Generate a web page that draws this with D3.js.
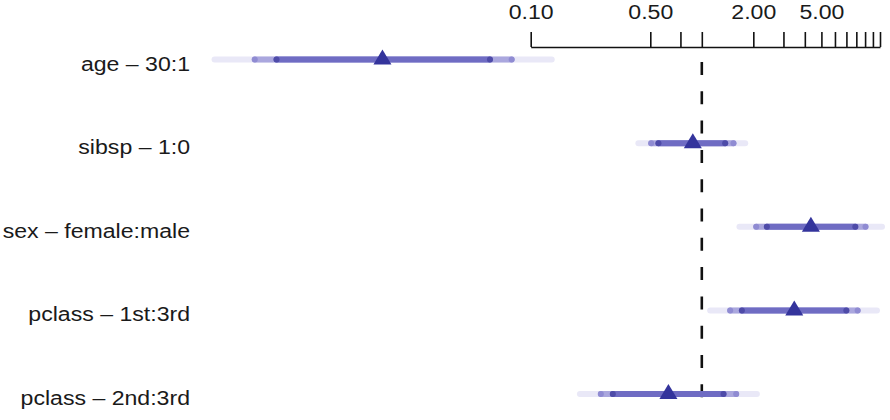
<!DOCTYPE html>
<html>
<head>
<meta charset="utf-8">
<script src="https://cdn.jsdelivr.net/npm/d3@7"></script>
<style>
body { margin: 0; background: #fff; }
text { font-family: "Liberation Sans", Helvetica, Arial, sans-serif; fill: #1a1a1a; }
</style>
</head>
<body>
<svg class="chart" width="890" height="420"></svg>
<script>
// effects (odds ratios) with 0.9 / 0.95 / 0.99 confidence limits
var labels = ["age \u2013 30:1", "sibsp \u2013 1:0", "sex \u2013 female:male", "pclass \u2013 1st:3rd", "pclass \u2013 2nd:3rd"];
var oddsRatio = [0.0136, 0.886, 4.34, 3.47, 0.638];
var lo90 = [0.00327, 0.558, 2.40, 1.715, 0.302];
var hi90 = [0.0578, 1.369, 7.89, 6.99, 1.339];
var lo95 = [0.00244, 0.506, 2.08, 1.465, 0.257];
var hi95 = [0.0774, 1.531, 9.05, 8.14, 1.588];
var lo99 = [0.00142, 0.426, 1.66, 1.119, 0.194];
var hi99 = [0.1327, 1.793, 11.3, 10.56, 2.098];
var tickValues = [0.1, 0.5, 0.75, 1, 2, 3, 4, 5, 6, 7, 8, 9, 10, 11];
var tickLabels = {"0.1": "0.10", "0.5": "0.50", "2": "2.00", "5": "5.00"};

var chart = d3.select(".chart");

var x = d3.scaleLog()
    .domain([0.1, 11])
    .range([530.7, 880]);

var y = d3.scalePoint()
    .domain(labels)
    .range([59.5, 394]);

var data = labels.map(function(d, i) {
    return {label: d, or: oddsRatio[i], l90: lo90[i], h90: hi90[i], l95: lo95[i], h95: hi95[i], l99: lo99[i], h99: hi99[i]};
});

// top axis
var axis = d3.axisTop(x)
    .tickValues(tickValues)
    .tickSize(15)
    .tickSizeOuter(0)
    .tickPadding(13)
    .tickFormat(function(d) { return tickLabels[String(d)] || ""; });

var ax = chart.append("g")
    .attr("transform", "translate(0,47)")
    .call(axis);
ax.select(".domain").attr("stroke", "#111").attr("stroke-width", 1.6);
ax.selectAll(".tick line").attr("stroke", "#111").attr("stroke-width", 1.6);
ax.selectAll(".tick text")
    .attr("font-family", "Liberation Sans, Helvetica, Arial, sans-serif")
    .attr("font-size", 21)
    .attr("fill", "#1a1a1a")
    .attr("transform", function() { return "translate(" + 0 + ",0)"; })
    .each(function() {
        var t = d3.select(this);
        t.attr("transform", "translate(0," + t.attr("y") + ") scale(1.1,1)").attr("y", 0);
    });

// reference line at OR = 1
chart.append("line")
    .attr("x1", x(1)).attr("x2", x(1))
    .attr("y1", 62).attr("y2", 398)
    .attr("stroke", "#111")
    .attr("stroke-width", 2.6)
    .attr("stroke-dasharray", "13,16.3");

var row = chart.selectAll("g.row")
    .data(data)
    .enter()
    .append("g")
    .attr("class", "row");

// row labels
row.append("text")
    .attr("text-anchor", "end")
    .attr("font-size", 21)
    .attr("transform", function(d) { return "translate(190," + (y(d.label) + 11) + ") scale(1.1,1)"; })
    .text(function(d) { return d.label; });

var bars = [
    {lo: "l99", hi: "h99", col: "#e9e8f7", dot: null},
    {lo: "l95", hi: "h95", col: "#aaa7de", dot: "#8f8bd2"},
    {lo: "l90", hi: "h90", col: "#6f6cc3", dot: "#4e4ba8"}
];

bars.forEach(function(b) {
    row.append("line")
        .attr("x1", function(d) { return x(d[b.lo]); })
        .attr("x2", function(d) { return x(d[b.hi]); })
        .attr("y1", function(d) { return y(d.label); })
        .attr("y2", function(d) { return y(d.label); })
        .attr("stroke", b.col)
        .attr("stroke-width", 6)
        .attr("stroke-linecap", "round");
    if (b.dot) {
        [b.lo, b.hi].forEach(function(k) {
            row.append("circle")
                .attr("cx", function(d) { return x(d[k]); })
                .attr("cy", function(d) { return y(d.label); })
                .attr("r", 3)
                .attr("fill", b.dot);
        });
    }
});

// point estimates
row.append("path")
    .attr("d", function(d) {
        var cx = x(d.or), cy = y(d.label);
        return "M" + (cx - 9) + "," + (cy + 5) + "L" + (cx + 9) + "," + (cy + 5) + "L" + cx + "," + (cy - 10) + "Z";
    })
    .attr("fill", "#34349c");
</script>
</body>
</html>
